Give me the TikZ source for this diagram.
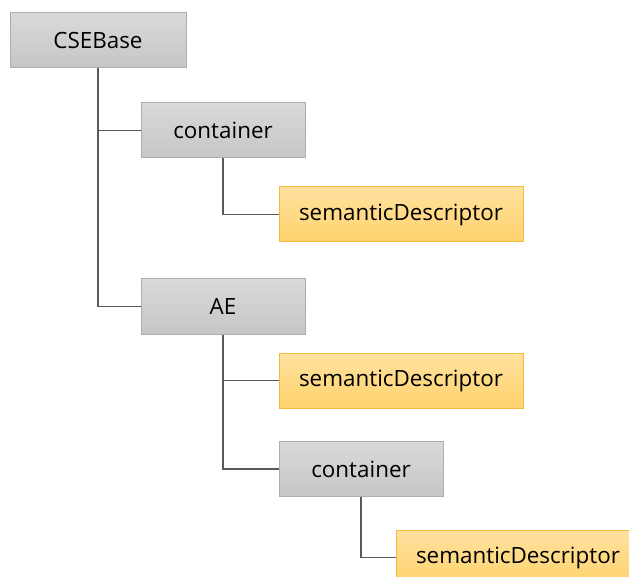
\documentclass[tikz,border=0pt]{standalone}
\usepackage{fontspec}
\setmainfont{Open Sans}
\definecolor{greytop}{HTML}{D9D9D9}
\definecolor{greybot}{HTML}{C6C6C6}
\definecolor{greyline}{HTML}{ADADAD}
\definecolor{goldtop}{HTML}{FFE2A0}
\definecolor{goldbot}{HTML}{FFD26C}
\definecolor{goldline}{HTML}{F2BC3A}
\definecolor{linkgrey}{HTML}{5A5A5A}
\begin{document}
\begin{tikzpicture}[x=1pt,y=-1pt,
		res/.style={draw=greyline,line width=1pt,top color=greytop,bottom color=greybot,
			minimum width=164pt,minimum height=55pt,inner sep=0pt,font=\fontsize{22.4}{26}\selectfont},
		sem/.style={res,draw=goldline,top color=goldtop,bottom color=goldbot,minimum width=244pt},
		link/.style={draw=linkgrey,line width=1.3pt}]
			\useasboundingbox (0,0) rectangle (629,577);
			% resource tree
			\node[res,minimum width=176pt] (cse) at (98,40.5) {CSEBase};
			\node[res] (cnt) at (223,130.5) {container};
			\node[sem] (semA) at (401,214.5) {semanticDescriptor};
			\node[res] (ae) at (223,306.5) {AE};
			\node[sem] (semB) at (401,380.5) {semanticDescriptor};
			\node[res] (aecnt) at (361,469) {container};
			\node[sem] (semC) at (518,557.5) {semanticDescriptor};
			% links
			\draw[link] (cse.south) |- (ae.west);
			\draw[link] (cse.south |- cnt.west) -- (cnt.west);
			\draw[link] (cnt.south) |- (semA.west);
			\draw[link] (ae.south) |- (aecnt.west);
			\draw[link] (ae.south |- semB.west) -- (semB.west);
			\draw[link] (aecnt.south) |- (semC.west);
		\end{tikzpicture}
\end{document}
